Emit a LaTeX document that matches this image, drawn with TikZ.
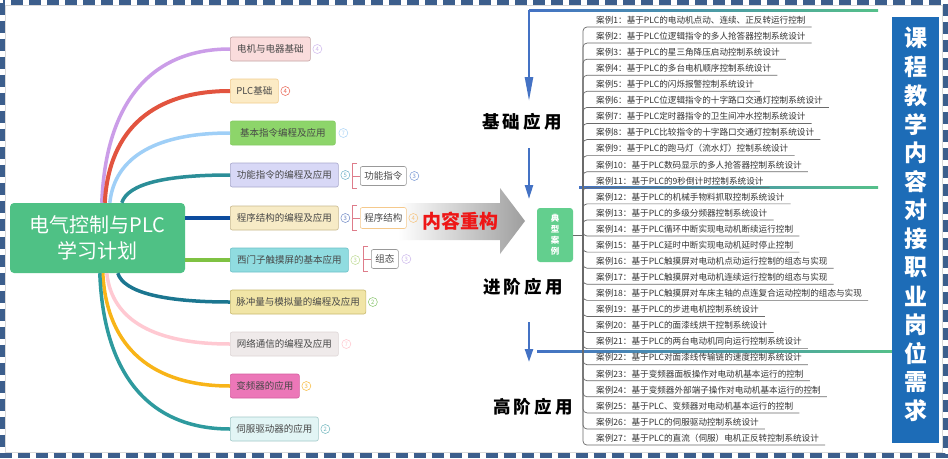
\documentclass[tikz,border=0pt]{standalone}
\usepackage{fontspec}
\setmainfont{Noto Sans CJK SC}
\usetikzlibrary{arrows.meta,calc}
\definecolor{borderblue}{HTML}{3C5E8C}
\definecolor{rootgreen}{HTML}{4FC185}
\definecolor{nodetext}{HTML}{474747}
\definecolor{casegray}{HTML}{333333}
\definecolor{linegray}{HTML}{6A6A6A}
\definecolor{arrowblue}{HTML}{4472C4}
\definecolor{linegreen}{HTML}{55C08A}
\definecolor{typgreen}{HTML}{63CF8E}
\definecolor{vblue}{HTML}{1D6CB7}
\definecolor{brk}{HTML}{DE7C8A}
\definecolor{kred}{HTML}{EE1616}
% branch lines
\definecolor{la}{HTML}{CB9DE8}\definecolor{lb}{HTML}{E2543F}\definecolor{lc}{HTML}{9FCFF7}
\definecolor{ld}{HTML}{2B8E98}\definecolor{le}{HTML}{0D4C9E}\definecolor{lf}{HTML}{7FC243}
\definecolor{lg}{HTML}{1B7690}\definecolor{lh}{HTML}{FFC9D2}\definecolor{li}{HTML}{F8B418}
\definecolor{lj}{HTML}{2E9A9E}
% node fills / borders
\definecolor{fa}{HTML}{FADCDC}\definecolor{da}{HTML}{C4A4A4}
\definecolor{fb}{HTML}{FCEBC5}\definecolor{db}{HTML}{F2CC8E}
\definecolor{fc}{HTML}{8DD56A}\definecolor{dc}{HTML}{86CC63}
\definecolor{fd}{HTML}{D8D8F6}\definecolor{dd}{HTML}{A8A8CC}
\definecolor{fe}{HTML}{F7EBC6}\definecolor{de}{HTML}{C9B98E}
\definecolor{ff}{HTML}{90DCE0}\definecolor{df}{HTML}{6CC1C8}
\definecolor{fg}{HTML}{F1E5A6}\definecolor{dg}{HTML}{C9B96E}
\definecolor{fh}{HTML}{EFEAEA}\definecolor{dh}{HTML}{DED6D6}
\definecolor{fi}{HTML}{EC77B8}\definecolor{di}{HTML}{D55EA0}
\definecolor{fj}{HTML}{E2F5F5}\definecolor{dj}{HTML}{A3C9C9}
% count circles
\definecolor{ca}{HTML}{CDB6EC}\definecolor{cb}{HTML}{E8604E}\definecolor{cc}{HTML}{A8D2F6}
\definecolor{cd}{HTML}{6AAEC6}\definecolor{ce}{HTML}{6C86C4}\definecolor{cf}{HTML}{BBD98F}
\definecolor{cg}{HTML}{86C46A}\definecolor{ch}{HTML}{FFC4CC}\definecolor{ci}{HTML}{F7BA3A}
\definecolor{cj}{HTML}{6DB5BC}
\definecolor{csa}{HTML}{7495D3}\definecolor{csb}{HTML}{F6C27A}\definecolor{csc}{HTML}{CBB6EB}
\definecolor{sbd}{HTML}{F5C98C}
\begin{document}
\begin{tikzpicture}[x=1pt,y=-1pt,
  mnode/.style={draw, rounded corners=2pt, minimum height=24pt, anchor=west, inner xsep=6pt,
    font=\fontsize{9.5pt}{11pt}\selectfont, text=nodetext, line width=0.6pt},
  subnode/.style={draw, fill=white, rounded corners=2pt, minimum height=20pt, anchor=west, inner xsep=4pt,
    font=\fontsize{9.5pt}{11pt}\selectfont, text=nodetext, line width=0.6pt},
  cnt/.style={circle, draw=#1, text=#1, minimum size=9pt, inner sep=0pt, line width=0.5pt,
    font=\fontsize{6pt}{6pt}\selectfont, anchor=west},
  br/.style={line width=3.5pt, draw=#1},
  bracket/.style={draw=brk, line width=0.8pt},
  casetext/.style={anchor=west, inner sep=0pt, font=\fontsize{8.6pt}{9pt}\selectfont, text=casegray},
  caseline/.style={draw=linegray, line width=0.7pt, rounded corners=4pt},
  barrow/.style={draw=arrowblue, line width=2.3pt},
  stagelabel/.style={font=\bfseries\fontsize{17.5pt}{18pt}\selectfont, text=black},
  vchar/.style={font=\bfseries\fontsize{23pt}{24pt}\selectfont, text=white, inner sep=0pt}
]
\useasboundingbox (0,0) rectangle (948,458);
\fill[white] (0,0) rectangle (948,458);

% ---------- root ----------
\node[fill=rootgreen, rounded corners=4pt, minimum width=175pt, minimum height=70pt, align=center,
  text=white, font=\fontsize{20pt}{26pt}\selectfont] (root) at (97.5,238) {电气控制与PLC\\学习计划};

% ---------- branch nodes ----------
\node[mnode, fill=fa, draw=da, minimum width=80pt]  (n1)  at (230,49)  {电机与电器基础};
\node[mnode, fill=fb, draw=db, minimum width=48pt]  (n2)  at (230,91)  {PLC基础};
\node[mnode, fill=fc, draw=dc, minimum width=105pt] (n3)  at (230,133) {基本指令编程及应用};
\node[mnode, fill=fd, draw=dd, minimum width=108pt] (n4)  at (230,175) {功能指令的编程及应用};
\node[mnode, fill=fe, draw=de, minimum width=108pt] (n5)  at (230,218) {程序结构的编程及应用};
\node[mnode, fill=ff, draw=df, minimum width=118pt] (n6)  at (230,260) {西门子触摸屏的基本应用};
\node[mnode, fill=fg, draw=dg, minimum width=135pt] (n7)  at (230,302) {脉冲量与模拟量的编程及应用};
\node[mnode, fill=fh, draw=dh, minimum width=108pt] (n8)  at (230,344) {网络通信的编程及应用};
\node[mnode, fill=fi, draw=di, minimum width=69pt]  (n9)  at (230,386) {变频器的应用};
\node[mnode, fill=fj, draw=dj, minimum width=88pt]  (n10) at (230,429) {伺服驱动器的应用};

% ---------- branch curves ----------
\draw[br=la] ($(root.north west)+(92,0)$) .. controls +(4,-103) and +(-77,0) .. (n1.west);
\draw[br=lb, line width=4pt] ($(root.north west)+(95,0)$) .. controls +(4,-75) and +(-75,0) .. (n2.west);
\draw[br=lc] ($(root.north west)+(100,0)$) .. controls +(5,-47) and +(-72,0) .. (n3.west);
\draw[br=ld] ($(root.north west)+(112,0)$) .. controls +(6,-19) and +(-65,0) .. (n4.west);
\draw[br=le, line width=4pt] (root.east |- n5.west) -- (n5.west);
\draw[br=lf] (root.east |- n6.west) -- (n6.west);
\draw[br=lg] ($(root.south west)+(108,0)$) .. controls +(6,19) and +(-67,0) .. (n7.west);
\draw[br=lh] ($(root.south west)+(97,0)$) .. controls +(5,48) and +(-74,0) .. (n8.west);
\draw[br=li] ($(root.south west)+(93,0)$) .. controls +(4,76) and +(-76,0) .. (n9.west);
\draw[br=lj] ($(root.south west)+(90,0)$) .. controls +(4,105) and +(-78,0) .. (n10.west);

% ---------- big grey arrow ----------
\shade[left color=white, right color=black!38]
  (398,203) -- (500,203) -- (500,188) -- (525,221) -- (500,254) -- (500,240) -- (398,240) -- cycle;
\node[text=kred, font=\bfseries\fontsize{19pt}{20pt}\selectfont] (rebuild) at (460,221) {内容重构};

% ---------- count circles ----------
\node[cnt=ca] (k1)  at ([xshift=2pt]n1.east)  {4};
\node[cnt=cb] (k2)  at ([xshift=2pt]n2.east)  {4};
\node[cnt=cc] (k3)  at ([xshift=3pt]n3.east)  {7};
\node[cnt=cd] (k4)  at ([xshift=2pt]n4.east)  {5};
\node[cnt=ce] (k5)  at ([xshift=2pt]n5.east)  {3};
\node[cnt=cf] (k6)  at ([xshift=2pt]n6.east)  {3};
\node[cnt=cg] (k7)  at ([xshift=2pt]n7.east)  {2};
\node[cnt=ch] (k8)  at ([xshift=3pt]n8.east)  {7};
\node[cnt=ci] (k9)  at ([xshift=2pt]n9.east)  {3};
\node[cnt=cj] (k10) at ([xshift=2pt]n10.east) {2};

% ---------- sub nodes ----------
\node[subnode, draw=black!40, minimum width=45pt, minimum height=19pt] (s1) at (360,176) {功能指令};
\node[subnode, draw=sbd, minimum width=45pt, minimum height=21pt] (s2) at (360,218) {程序结构};
\node[subnode, draw=black!40, minimum width=26pt, minimum height=19pt] (s3) at (371,259) {组态};
\node[cnt=csa] (ks1) at ([xshift=3pt]s1.east) {3};
\node[cnt=csb] (ks2) at ([xshift=2pt]s2.east) {4};
\node[cnt=csc] (ks3) at ([xshift=3pt]s3.east) {3};

% brackets
\foreach \s in {s1,s2,s3}{
  \draw[bracket] ($(\s.west)+(-3,-12.5)$) -- ++(-5,0) -- ++(0,25) -- ++(5,0);
  \draw[bracket] ($(\s.west)+(-8,0)$) -- (\s.west);
}

% ---------- blue flow arrows & gradient lines ----------
\coordinate (a1s) at (529,10);  \coordinate (a1e) at (529,101);
\coordinate (a2s) at (529,148); \coordinate (a2e) at (529,199);
\coordinate (a3s) at (529,322); \coordinate (a3e) at (529,362);
\shade[left color=arrowblue, right color=linegreen] (529,9) rectangle (878,11);
\shade[left color=arrowblue, right color=linegreen] (579,186) rectangle (878,188);
\shade[left color=arrowblue, right color=linegreen] (537,350) rectangle (893,352);
\draw[barrow, -{Triangle[length=24pt,width=8pt]}] (a1s) -- (a1e);
\draw[barrow, -{Triangle[length=14pt,width=8pt]}] (a2s) -- (a2e);
\draw[barrow, -{Triangle[length=13pt,width=8pt]}] (a3s) -- (a3e);

\node[stagelabel] (st1) at (522,122) {基\kern3pt 础\kern3pt 应\kern3pt 用};
\node[stagelabel] (st2) at (523,287) {进\kern3pt 阶\kern3pt 应\kern3pt 用};
\node[stagelabel] (st3) at (533,407) {高\kern3pt 阶\kern3pt 应\kern3pt 用};

% ---------- typical cases ----------
\node[fill=typgreen, rounded corners=3pt, minimum width=36pt, minimum height=54pt, align=center,
  text=white, font=\bfseries\fontsize{8.5pt}{11pt}\selectfont] (typ) at (555,235) {典\\型\\案\\例};
\coordinate (hub) at (583,235);
\draw[draw=linegray, line width=0.7pt] (typ.east) -- (hub);

\foreach \t [count=\i] in {
案例1：基于PLC的电动机点动、连续、正反转运行控制,
案例2：基于PLC位逻辑指令的多人抢答器控制系统设计,
案例3：基于PLC的星三角降压启动控制系统设计,
案例4：基于PLC的多台电机顺序控制系统设计,
案例5：基于PLC的闪烁报警控制系统设计,
案例6：基于PLC位逻辑指令的十字路口交通灯控制系统设计,
案例7：基于PLC定时器指令的卫生间冲水控制系统设计,
案例8：基于PLC比较指令的十字路口交通灯控制系统设计,
案例9：基于PLC的跑马灯（流水灯）控制系统设计,
案例10：基于PLC数码显示的多人抢答器控制系统设计,
案例11：基于PLC的9秒倒计时控制系统设计,
案例12：基于PLC的机械手物料抓取控制系统设计,
案例13：基于PLC的多级分频器控制系统设计,
案例14：基于PLC循环中断实现电动机断续运行控制,
案例15：基于PLC延时中断实现电动机延时停止控制,
案例16：基于PLC触摸屏对电动机点动运行控制的组态与实现,
案例17：基于PLC触摸屏对电动机连续运行控制的组态与实现,
案例18：基于PLC触摸屏对车床主轴的点连复合运动控制的组态与实现,
案例19：基于PLC的步进电机控制系统设计,
案例20：基于PLC的面漆线烘干控制系统设计,
案例21：基于PLC的两台电动机同向运行控制系统设计,
案例22：基于PLC对面漆线传输链的速度控制系统设计,
案例23：基于变频器面板操作对电动机基本运行的控制,
案例24：基于变频器外部端子操作对电动机基本运行的控制,
案例25：基于PLC、变频器对电动机基本运行的控制,
案例26：基于PLC的伺服驱动控制系统设计,
案例27：基于PLC的直流（伺服）电机正反转控制系统设计}{
  \node[casetext] (case\i) at (596,{20+(\i-1)*16.08}) {\t};
  \draw[caseline] (hub) |- ($(case\i.east)+(6,7)$);
}

% ---------- right vertical banner ----------
\node[fill=vblue, minimum width=47pt, minimum height=426pt, inner sep=0pt] (vbox) at (915.5,230) {};
\foreach \ch [count=\i from 0] in {课,程,教,学,内,容,对,接,职,业,岗,位,需,求}{
  \node[vchar] (v\i) at (915.5,{38+\i*28.7}) {\ch};
}

% ---------- dashed frame ----------
\draw[black!15, line width=0.5pt] (5.5,5.5) rectangle (942.5,452.5);
\draw[borderblue, line width=5pt, dash pattern=on 12pt off 6pt] (2.5,2.5) rectangle (945.5,455.5);
\end{tikzpicture}
\end{document}
